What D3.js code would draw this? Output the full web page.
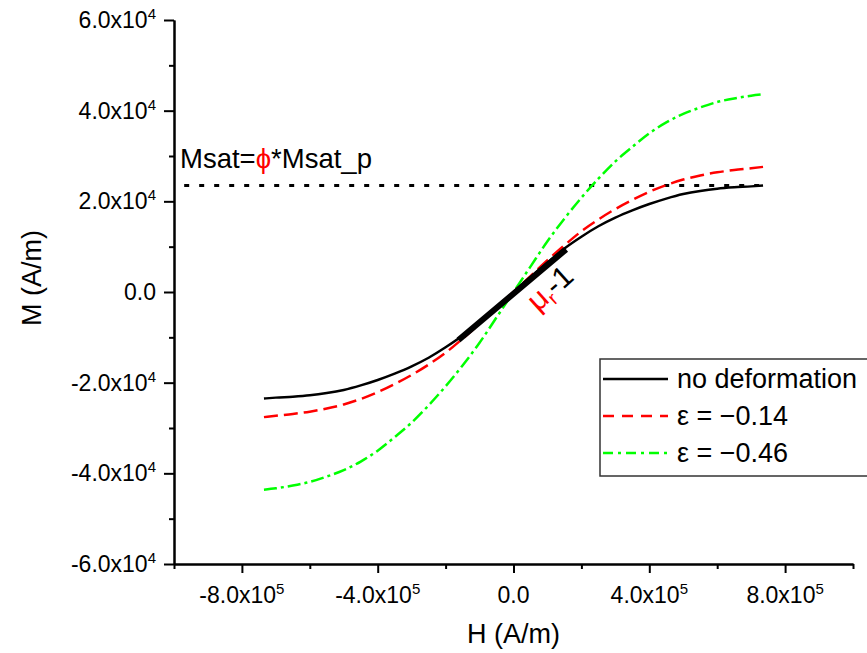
<!DOCTYPE html>
<html>
<head>
<meta charset="utf-8">
<script src="https://cdn.jsdelivr.net/npm/d3@7"></script>
<style>
body { margin: 0; background: #fff; }
text { font-family: "Liberation Sans", Arial, sans-serif; fill: #000; }
</style>
</head>
<body>
<div id="root"></div>
<script>
const width = 867;
const height = 653;

// field H (A/m)
const fieldH = [-7.35e5, -7e5, -6.5e5, -6e5, -5.5e5, -5e5, -4.5e5, -4e5, -3.5e5, -3e5, -2.5e5, -2e5, -1.5e5, -1e5, -0.5e5, 0,
                0.5e5, 1e5, 1.5e5, 2e5, 2.5e5, 3e5, 3.5e5, 4e5, 4.5e5, 5e5, 5.5e5, 6e5, 6.5e5, 7e5, 7.35e5];

// magnetisation M (A/m)
const mNoDef = [-2.35e4, -2.33e4, -2.31e4, -2.28e4, -2.23e4, -2.16e4, -2.06e4, -1.94e4, -1.80e4, -1.64e4, -1.45e4, -1.22e4, -0.96e4, -0.65e4, -0.33e4, 0,
                0.33e4, 0.65e4, 0.96e4, 1.22e4, 1.45e4, 1.64e4, 1.80e4, 1.94e4, 2.06e4, 2.16e4, 2.23e4, 2.28e4, 2.31e4, 2.33e4, 2.35e4];
const mEps014 = [-2.76e4, -2.73e4, -2.69e4, -2.64e4, -2.57e4, -2.48e4, -2.36e4, -2.21e4, -2.03e4, -1.83e4, -1.60e4, -1.34e4, -1.03e4, -0.70e4, -0.35e4, 0,
                 0.35e4, 0.70e4, 1.03e4, 1.34e4, 1.60e4, 1.83e4, 2.03e4, 2.21e4, 2.36e4, 2.48e4, 2.57e4, 2.64e4, 2.69e4, 2.73e4, 2.76e4];
const mEps046 = [-4.36e4, -4.33e4, -4.27e4, -4.19e4, -4.07e4, -3.93e4, -3.74e4, -3.50e4, -3.20e4, -2.88e4, -2.50e4, -2.08e4, -1.62e4, -1.12e4, -0.56e4, 0,
                 0.56e4, 1.12e4, 1.62e4, 2.08e4, 2.50e4, 2.88e4, 3.20e4, 3.50e4, 3.74e4, 3.93e4, 4.07e4, 4.19e4, 4.27e4, 4.33e4, 4.36e4];

// initial slope segment (mu_r - 1) and saturation level
const tangentH = [-1.62e5, 1.55e5];
const tangentM = [-1.06e4, 0.94e4];
const msatH = [-9.7e5, 7.35e5];
const msatLevel = 2.35e4;

const xMajor = [-8e5, -4e5, 0, 4e5, 8e5];
const xMinor = [-1e6, -6e5, -2e5, 2e5, 6e5, 1e6];
const yMajor = [-6e4, -4e4, -2e4, 0, 2e4, 4e4, 6e4];
const yMinor = [-5e4, -3e4, -1e4, 1e4, 3e4, 5e4];

const seriesNames = ["no deformation", "\u03b5 = \u22120.14", "\u03b5 = \u22120.46"];
const seriesColors = ["#000000", "#ff0000", "#00ff00"];
const seriesDash = [null, "14,6", "13,4,3,4"];
const legendDash = [null, "11,8", "10,5,3,5"];

const x = d3.scaleLinear().domain([-1e6, 1e6]).range([174, 853]);
const y = d3.scaleLinear().domain([-6e4, 6e4]).range([564, 20]);

const svg = d3.select("#root").append("svg")
	.attr("width", width)
	.attr("height", height);

// sci-notation tick label, e.g. 4.0x10^5
function sciLabel(sel, v, exp) {
	if (v === 0) { sel.text("0.0"); return; }
	sel.append("tspan").text((v / Math.pow(10, exp)).toFixed(1) + "x10");
	sel.append("tspan").attr("dy", -9).attr("font-size", 15).text(exp);
}

function styleAxis(g) {
	g.select(".domain").attr("stroke-width", 2);
	g.selectAll(".tick line").attr("stroke-width", 2);
}

// x axis
const xAxisG = svg.append("g").attr("transform", `translate(0,${y(-6e4)})`);
xAxisG.append("g").call(d3.axisBottom(x).tickValues(xMinor).tickSize(5).tickSizeOuter(0).tickFormat("")).call(styleAxis);
xAxisG.append("g").call(d3.axisBottom(x).tickValues(xMajor).tickSize(9).tickSizeOuter(0).tickFormat("")).call(styleAxis);
xAxisG.selectAll(".xlab")
	.data(xMajor).enter()
	.append("text")
		.attr("class", "xlab")
		.attr("x", d => x(d))
		.attr("y", 39)
		.attr("text-anchor", "middle")
		.attr("font-size", 23)
		.each(function(d) { sciLabel(d3.select(this), d, 5); });

// y axis
const yAxisG = svg.append("g").attr("transform", `translate(${x(-1e6)},0)`);
yAxisG.append("g").call(d3.axisLeft(y).tickValues(yMinor).tickSize(5).tickSizeOuter(0).tickFormat("")).call(styleAxis);
yAxisG.append("g").call(d3.axisLeft(y).tickValues(yMajor).tickSize(10).tickSizeOuter(0).tickFormat("")).call(styleAxis);
yAxisG.selectAll(".ylab")
	.data(yMajor).enter()
	.append("text")
		.attr("class", "ylab")
		.attr("x", -18)
		.attr("y", d => y(d) + 8)
		.attr("text-anchor", "end")
		.attr("font-size", 23)
		.each(function(d) { sciLabel(d3.select(this), d, 4); });

// axis titles
svg.append("text")
	.attr("x", (x.range()[0] + x.range()[1]) / 2)
	.attr("y", 643)
	.attr("text-anchor", "middle")
	.attr("font-size", 27)
	.text("H (A/m)");

svg.append("text")
	.attr("transform", "translate(41,278) rotate(-90)")
	.attr("text-anchor", "middle")
	.attr("font-size", 27)
	.text("M (A/m)");

// Msat dotted line
svg.append("line")
	.attr("x1", x(msatH[0])).attr("x2", x(msatH[1]))
	.attr("y1", y(msatLevel)).attr("y2", y(msatLevel))
	.attr("stroke", "#000")
	.attr("stroke-width", 3)
	.attr("stroke-dasharray", "5,10");

const msatText = svg.append("text")
	.attr("x", x(-1e6) + 6)
	.attr("y", y(msatLevel) - 17)
	.attr("font-size", 27.5);
msatText.append("tspan").text("Msat=");
msatText.append("tspan").style("fill", "#ff0000").text("\u03d5");
msatText.append("tspan").text("*Msat_p");

// curves
const line = d3.line()
	.x(d => x(d[0]))
	.y(d => y(d[1]))
	.curve(d3.curveMonotoneX);

const seriesM = [mNoDef, mEps014, mEps046];
const drawOrder = [2, 1, 0];
drawOrder.forEach(i => {
	svg.append("path")
		.datum(fieldH.map((h, j) => [h, seriesM[i][j]]))
		.attr("d", line)
		.attr("fill", "none")
		.attr("stroke", seriesColors[i])
		.attr("stroke-width", 2.5)
		.attr("stroke-dasharray", seriesDash[i]);
});

// mu_r - 1 tangent
svg.append("line")
	.attr("x1", x(tangentH[0])).attr("y1", y(tangentM[0]))
	.attr("x2", x(tangentH[1])).attr("y2", y(tangentM[1]))
	.attr("stroke", "#000")
	.attr("stroke-width", 6);

const muText = svg.append("text")
	.attr("transform", `translate(${x(0.72e5)},${y(-0.45e4)}) rotate(-42)`)
	.attr("font-size", 30);
muText.append("tspan").style("fill", "#ff0000").text("\u03bc");
muText.append("tspan").style("fill", "#ff0000").attr("font-size", 19).attr("dy", 6).text("r");
muText.append("tspan").attr("dy", -6).text("-1");

// legend
const legend = svg.append("g").attr("transform", "translate(600,359)");
legend.append("rect")
	.attr("width", 300)
	.attr("height", 117)
	.attr("fill", "#fff")
	.attr("stroke", "#333")
	.attr("stroke-width", 1.5);

const rows = legend.selectAll(".row")
	.data(seriesNames).enter()
	.append("g")
		.attr("class", "row")
		.attr("transform", (d, i) => `translate(0,${20 + i * 37})`);

rows.append("line")
	.attr("x1", 3).attr("x2", 68)
	.attr("stroke", (d, i) => seriesColors[i])
	.attr("stroke-width", 2.5)
	.attr("stroke-dasharray", (d, i) => legendDash[i]);

rows.append("text")
	.attr("x", 77)
	.attr("y", 9)
	.attr("font-size", 27)
	.text(d => d);
</script>
</body>
</html>
